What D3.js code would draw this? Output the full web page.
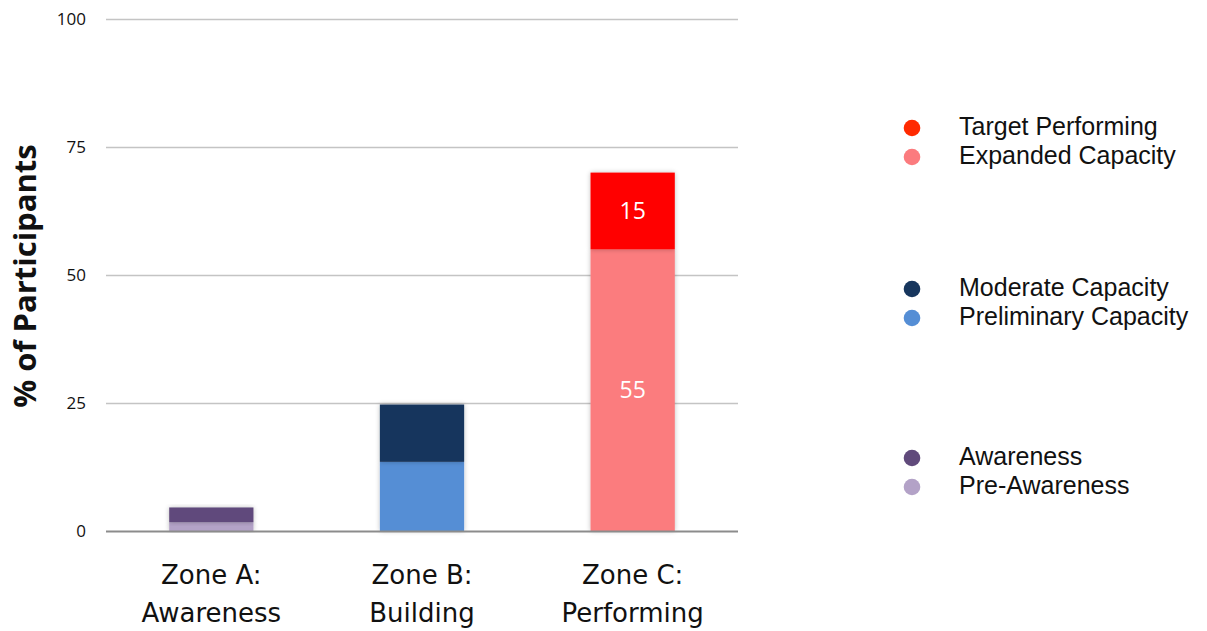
<!DOCTYPE html>
<html><head><meta charset="utf-8">
<script src="https://cdn.jsdelivr.net/npm/d3@7"></script>
<style>body{margin:0;background:#fff} .tick-lbl{font-family:'Open Sans',sans-serif;font-size:17px;fill:#111}</style>
</head><body>
<svg id="c" width="1207" height="631"></svg>
<script>
const categories = ["Zone A:|Awareness", "Zone B:|Building", "Zone C:|Performing"];
const seriesNames = ["Pre-Awareness","Awareness","Preliminary Capacity","Moderate Capacity","Expanded Capacity","Target Performing"];
const preAwareness = [1.7, 0, 0];
const awareness = [2.9, 0, 0];
const preliminary = [0, 13.5, 0];
const moderate = [0, 11.2, 0];
const expanded = [0, 0, 55];
const target = [0, 0, 15];
const labelled = ["Expanded Capacity","Target Performing"];
const yTicks = [0, 25, 50, 75, 100];
const legendGroups = [["Target Performing","Expanded Capacity"],["Moderate Capacity","Preliminary Capacity"],["Awareness","Pre-Awareness"]];

const barColors = {"Pre-Awareness":"#b3a2c7","Awareness":"#604a7b","Preliminary Capacity":"#558ed5","Moderate Capacity":"#17365d","Expanded Capacity":"#fb7b7e","Target Performing":"#ff0000"};
const legendColors = Object.assign({}, barColors, {"Target Performing":"#ff2a00"});

const seriesValues = [preAwareness, awareness, preliminary, moderate, expanded, target];
const rows = categories.map((c,i)=>{const r={cat:c}; seriesNames.forEach((s,j)=>r[s]=seriesValues[j][i]); return r;});
const stacked = d3.stack().keys(seriesNames)(rows);

const svg = d3.select("#c");
const x = d3.scaleBand().domain(categories).range([106,738]).paddingInner(0.6).paddingOuter(0.3);
const y = d3.scaleLinear().domain([0,100]).range([531,19]);

const defs = svg.append("defs");
const f = defs.append("filter").attr("id","sh").attr("x","-20%").attr("y","-20%").attr("width","140%").attr("height","140%");
f.append("feGaussianBlur").attr("in","SourceAlpha").attr("stdDeviation",2.5).attr("result","b");
f.append("feComponentTransfer").attr("in","b").attr("result","o2").append("feFuncA").attr("type","linear").attr("slope",0.25);
const m = f.append("feMerge"); m.append("feMergeNode").attr("in","o2"); m.append("feMergeNode").attr("in","SourceGraphic");

// y tick labels
svg.append("g").selectAll("text").data(yTicks).join("text")
  .attr("class","tick-lbl").attr("x",86).attr("y",d=>y(d)).attr("dy","0.36em").attr("text-anchor","end")
  .attr("font-size","17px").text(d=>d);
svg.append("g").selectAll("line").data(yTicks.filter(d=>d>0)).join("line")
  .attr("x1",106).attr("x2",738).attr("y1",d=>Math.round(y(d))+0.5).attr("y2",d=>Math.round(y(d))+0.5)
  .attr("stroke","#c4c4c4").attr("stroke-width",1.5);

// bars
const gb = svg.append("g");
stacked.forEach(layer=>{
  gb.append("g").selectAll("rect").data(layer.filter(d=>d[1]-d[0]>0)).join("rect")
    .attr("x",d=>x(d.data.cat)).attr("width",x.bandwidth())
    .attr("y",d=>y(d[1])).attr("height",d=>y(d[0])-y(d[1]))
    .attr("fill",barColors[layer.key]).attr("filter","url(#sh)");
});
// baseline
svg.append("line").attr("x1",106).attr("x2",738).attr("y1",y(0)+0.5).attr("y2",y(0)+0.5).attr("stroke","#8c8c8c").attr("stroke-width",2);

// data labels
stacked.filter(l=>labelled.includes(l.key)).forEach(layer=>{
  svg.append("g").selectAll("text").data(layer.filter(d=>d[1]-d[0]>0)).join("text")
    .attr("x",d=>x(d.data.cat)+x.bandwidth()/2).attr("y",d=>(y(d[0])+y(d[1]))/2)
    .attr("dy","0.36em").attr("text-anchor","middle").attr("fill","#fff")
    .style("font-family","'Open Sans', sans-serif").style("font-size","23px")
    .text(d=>d3.format("d")(d[1]-d[0]));
});

// x labels
const gx = svg.append("g");
categories.forEach(c=>{
  const parts = c.split("|");
  const t = gx.append("text").attr("text-anchor","middle").style("font-family","'DejaVu Sans', sans-serif").style("font-size","26px").attr("fill","#111");
  parts.forEach((p,i)=>t.append("tspan").attr("x",x(c)+x.bandwidth()/2).attr("y",584+i*38).text(p));
});

// y title
svg.append("text").attr("transform","translate(36,276) rotate(-90)").attr("text-anchor","middle")
  .style("font-family","'Open Sans', sans-serif").style("font-weight","bold").style("font-size","31px").attr("fill","#111")
  .text("% of Participants");

// legend
const legY = [[126,155],[287,316],[456,485]];
legendGroups.forEach((g,gi)=>g.forEach((name,i)=>{
  const yy = legY[gi][i];
  svg.append("circle").attr("cx",912).attr("cy",yy+2).attr("r",8.3).attr("fill",legendColors[name]);
  svg.append("text").attr("x",959).attr("y",yy).attr("dy","0.36em").style("font-family","'Liberation Sans', Arial, sans-serif")
    .style("font-size","25px").attr("fill","#111").text(name);
}));
</script>
</body></html>
